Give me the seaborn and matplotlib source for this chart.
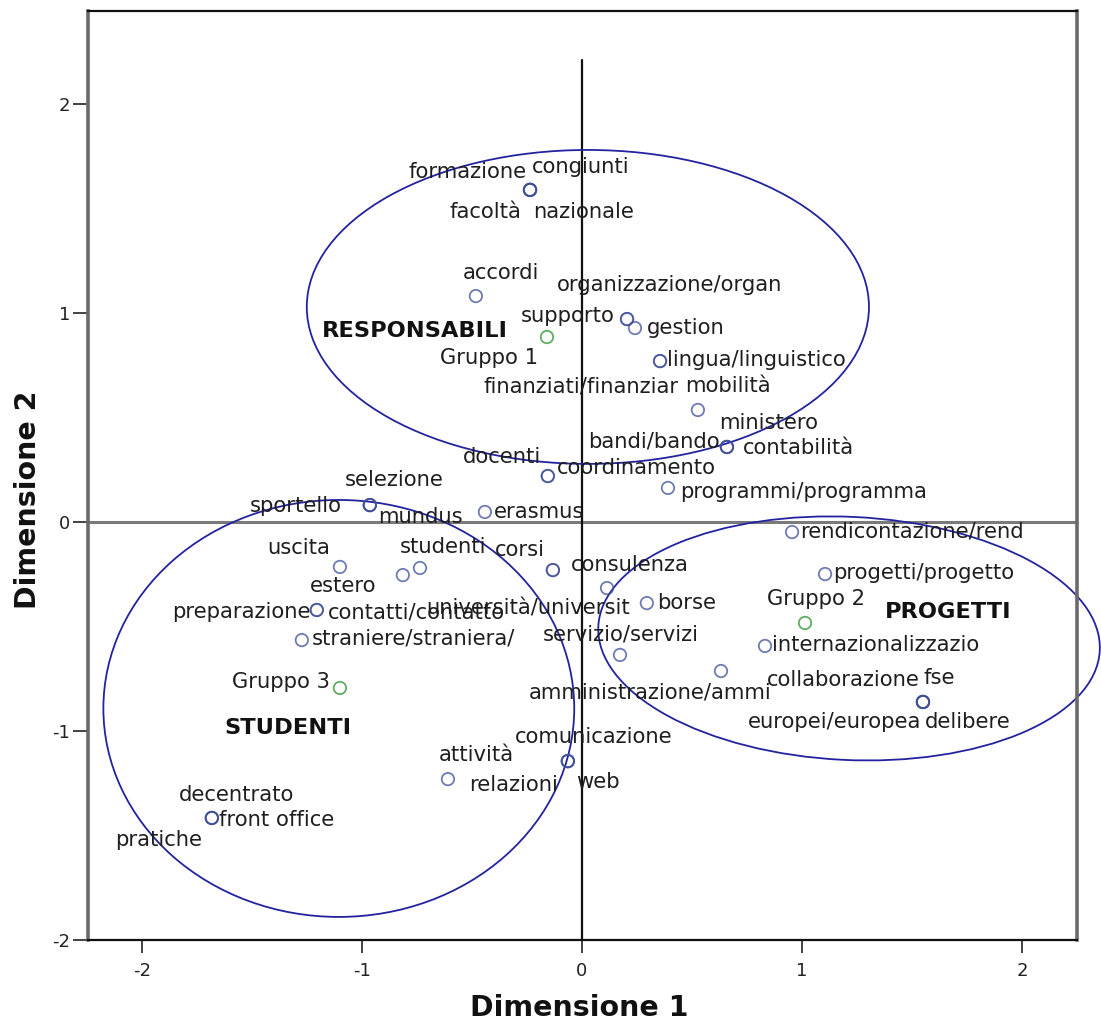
import matplotlib
matplotlib.use("Agg")
import matplotlib.pyplot as plt
from matplotlib.patches import Ellipse
import pandas as pd
import seaborn as sns

# ---- term coordinates (Dimensione 1, Dimensione 2) ----
terms = [
    "formazione", "congiunti", "facoltà", "nazionale",
    "accordi",
    "supporto", "organizzazione/organ",
    "gestion",
    "lingua/linguistico", "finanziati/finanziar",
    "mobilità",
    "bandi/bando", "ministero", "contabilità",
    "docenti", "coordinamento",
    "programmi/programma",
    "selezione", "sportello", "mundus",
    "erasmus",
    "rendicontazione/rend",
    "uscita",
    "estero",
    "studenti",
    "corsi", "consulenza",
    "università/universit",
    "borse",
    "preparazione", "contatti/contatto",
    "straniere/straniera/",
    "servizio/servizi",
    "amministrazione/ammi",
    "internazionalizzazio",
    "progetti/progetto",
    "collaborazione", "fse", "europei/europea", "delibere",
    "comunicazione", "web", "relazioni",
    "attività",
    "decentrato", "front office", "pratiche",
]
dim1 = [
    -0.236, -0.236, -0.236, -0.236,
    -0.482,
    0.205, 0.205,
    0.241,
    0.355, 0.355,
    0.527,
    0.659, 0.659, 0.659,
    -0.155, -0.155,
    0.391,
    -0.964, -0.964, -0.964,
    -0.441,
    0.955,
    -1.100,
    -0.814,
    -0.736,
    -0.132, -0.132,
    0.114,
    0.295,
    -1.205, -1.205,
    -1.273,
    0.173,
    0.632,
    0.832,
    1.105,
    1.550, 1.550, 1.550, 1.550,
    -0.064, -0.064, -0.064,
    -0.609,
    -1.682, -1.682, -1.682,
]
dim2 = [
    1.589, 1.589, 1.589, 1.589,
    1.081,
    0.971, 0.971,
    0.928,
    0.770, 0.770,
    0.536,
    0.359, 0.359, 0.359,
    0.220, 0.220,
    0.163,
    0.081, 0.081, 0.081,
    0.048,
    -0.048,
    -0.215,
    -0.254,
    -0.220,
    -0.230, -0.230,
    -0.316,
    -0.388,
    -0.421, -0.421,
    -0.565,
    -0.636,
    -0.713,
    -0.593,
    -0.249,
    -0.861, -0.861, -0.861, -0.861,
    -1.144, -1.144, -1.144,
    -1.230,
    -1.416, -1.416, -1.416,
]

# ---- group centroids ----
group_names = ["Gruppo 1", "Gruppo 2", "Gruppo 3"]
group_dim1 = [-0.159, 1.014, -1.100]
group_dim2 = [0.885, -0.483, -0.794]

# ---- cluster titles ----
cluster_names = ["RESPONSABILI", "PROGETTI", "STUDENTI"]
cluster_x = [-0.759, 1.664, -1.336]
cluster_y = [0.914, -0.431, -0.986]

# ---- cluster outlines ----
ellipse_cx = [0.027, 1.214, -1.105]
ellipse_cy = [1.029, -0.557, -0.892]
ellipse_w = [2.555, 2.282, 2.140]
ellipse_h = [1.502, 1.163, 1.995]
ellipse_angle = [0.0, -3.0, 0.0]

x_ticks = [-2, -1, 0, 1, 2]
y_ticks = [-2, -1, 0, 1, 2]

# label placement: (dx px, dy px, horizontal alignment)
label_place = {
    "formazione": (-3, 18, "right"), "congiunti": (2, 23, "left"),
    "facoltà": (-9, -22, "right"), "nazionale": (3, -22, "left"),
    "accordi": (25, 23, "center"),
    "supporto": (-12, 3, "right"), "organizzazione/organ": (-70, 34, "left"),
    "gestion": (12, 0, "left"),
    "lingua/linguistico": (7, 1, "left"), "finanziati/finanziar": (19, -25, "right"),
    "mobilità": (-13, 24, "left"),
    "bandi/bando": (-7, 5, "right"), "ministero": (-8, 24, "left"),
    "contabilità": (16, -1, "left"),
    "docenti": (-7, 19, "right"), "coordinamento": (9, 8, "left"),
    "programmi/programma": (12, -4, "left"),
    "selezione": (-25, 25, "left"), "sportello": (-28, -1, "right"),
    "mundus": (8, -12, "left"),
    "erasmus": (9, 0, "left"),
    "rendicontazione/rend": (8, 1, "left"),
    "uscita": (-10, 19, "right"),
    "estero": (-26, -11, "right"),
    "studenti": (-20, 21, "left"),
    "corsi": (-8, 20, "right"), "consulenza": (18, 5, "left"),
    "università/universit": (23, -20, "right"),
    "borse": (10, 0, "left"),
    "preparazione": (-6, -2, "right"), "contatti/contatto": (11, -3, "left"),
    "straniere/straniera/": (10, 2, "left"),
    "servizio/servizi": (1, 20, "center"),
    "amministrazione/ammi": (51, -21, "right"),
    "internazionalizzazio": (7, 1, "left"),
    "progetti/progetto": (8, 1, "left"),
    "collaborazione": (-3, 22, "right"), "fse": (1, 24, "left"),
    "europei/europea": (-2, -20, "right"), "delibere": (2, -20, "left"),
    "comunicazione": (-53, 24, "left"), "web": (8, -21, "left"),
    "relazioni": (-10, -24, "right"),
    "attività": (-9, 24, "left"),
    "decentrato": (-33, 23, "left"), "front office": (7, -2, "left"),
    "pratiche": (-10, -22, "right"),
}
group_place = {
    "Gruppo 1": (-9, -21, "right"),
    "Gruppo 2": (11, 24, "center"),
    "Gruppo 3": (-10, 6, "right"),
}

terms_df = pd.DataFrame({"term": terms, "d1": dim1, "d2": dim2})
groups_df = pd.DataFrame({"group": group_names, "d1": group_dim1, "d2": group_dim2})

sns.set_theme(style="white")
plt.rcParams["font.family"] = ["DejaVu Sans"]

fig = plt.figure(figsize=(11.01, 10.25), dpi=100)
ax = fig.add_axes([0.0799, 0.0829, 0.8983, 0.9064])
ax.set_xlim(-2.245, 2.25)
ax.set_ylim(-2.0, 2.445)

# reference axes through the origin
ax.axhline(0, color="#7a7a7a", lw=2.2, zorder=1)
ax.axvline(0, ymin=0, ymax=(2.21 + 2.0) / 4.445, color="#111111", lw=1.6, zorder=1)

# cluster outlines
for cx, cy, w, h, a in zip(ellipse_cx, ellipse_cy, ellipse_w, ellipse_h, ellipse_angle):
    ax.add_patch(Ellipse((cx, cy), w, h, angle=a, fill=False,
                         edgecolor="#2323a0", lw=1.3, zorder=2, clip_on=False))

# term points and group centroids
sns.scatterplot(data=terms_df, x="d1", y="d2", ax=ax, marker="o", s=80,
                facecolor="none", edgecolor="#3f4f99", linewidth=1.3,
                alpha=0.75, zorder=3, legend=False)
sns.scatterplot(data=groups_df, x="d1", y="d2", ax=ax, marker="o", s=80,
                facecolor="none", edgecolor="#5fae5f", linewidth=1.3,
                zorder=3, legend=False)

label_kw = dict(fontsize=15.2, color="#1e1e1e", va="center",
                textcoords="offset pixels", zorder=4, annotation_clip=False)
for t, x, y in zip(terms, dim1, dim2):
    dx, dy, ha = label_place[t]
    ax.annotate(t, (x, y), xytext=(dx, dy), ha=ha, **label_kw)
for g, x, y in zip(group_names, group_dim1, group_dim2):
    dx, dy, ha = group_place[g]
    ax.annotate(g, (x, y), xytext=(dx, dy), ha=ha, **label_kw)

for name, x, y in zip(cluster_names, cluster_x, cluster_y):
    ax.text(x, y, name, fontsize=16.2, fontweight="bold", color="#111111",
            ha="center", va="center", zorder=4)

# ticks and frame
ax.set_xticks(x_ticks)
ax.set_yticks(y_ticks)
ax.set_xticklabels([str(v) for v in x_ticks])
ax.set_yticklabels([str(v) for v in y_ticks])
ax.tick_params(axis="x", direction="out", length=9.5, width=1.2, color="#222222",
               labelsize=13, pad=6, labelcolor="#222222", bottom=True)
ax.tick_params(axis="y", direction="out", length=11, width=1.2, color="#222222",
               labelsize=13, pad=2, labelcolor="#222222", left=True)

for side in ("top", "bottom"):
    ax.spines[side].set_color("#111111")
    ax.spines[side].set_linewidth(1.6)
for side in ("left", "right"):
    ax.spines[side].set_color("#6a6a6a")
    ax.spines[side].set_linewidth(2.6)

ax.set_xlabel("Dimensione 1", fontsize=20.5, fontweight="bold", color="#111111",
              va="center")
ax.set_ylabel("Dimensione 2", fontsize=20.5, fontweight="bold", color="#111111",
              va="center")
ax.xaxis.set_label_coords(0.497, -0.0727)
ax.yaxis.set_label_coords(-0.061, 0.474)

fig.savefig("out.png", dpi=100, facecolor="white")
